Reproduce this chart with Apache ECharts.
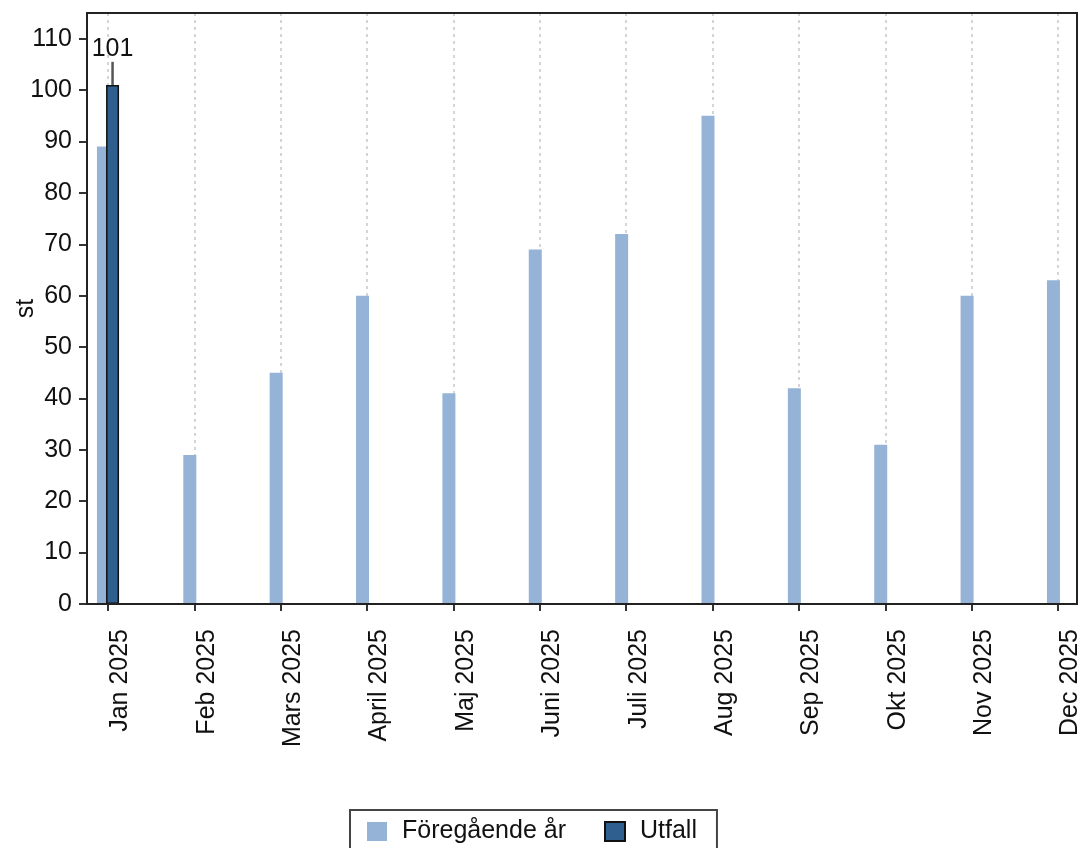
<!DOCTYPE html>
<html>
<head>
<meta charset="utf-8">
<script src="https://cdn.jsdelivr.net/npm/echarts@6/dist/echarts.min.js"></script>
<style>
html,body{margin:0;padding:0;background:#fff;}
#chart{width:1081px;height:848px;}
</style>
</head>
<body>
<div id="chart"></div>
<script>
var categories = ['Jan 2025','Feb 2025','Mars 2025','April 2025','Maj 2025','Juni 2025','Juli 2025','Aug 2025','Sep 2025','Okt 2025','Nov 2025','Dec 2025'];
var foregaendeAr = [89, 29, 45, 60, 41, 69, 72, 95, 42, 31, 60, 63];
var utfall = [101, null, null, null, null, null, null, null, null, null, null, null];
var utfallHigh = [105.5, null, null, null, null, null, null, null, null, null, null, null];
var yTicks = [0, 10, 20, 30, 40, 50, 60, 70, 80, 90, 100, 110];

var BAR_W = 13;
var BAR_GAP = -0.3;
var FONT = '"Liberation Sans", Arial, sans-serif';
var FS = 25;

var chart = echarts.init(document.getElementById('chart'), null, {renderer: 'canvas'});

var totalW = BAR_W * 2 + BAR_W * BAR_GAP;
var darkOffset = -totalW / 2 + BAR_W + BAR_W * BAR_GAP + BAR_W / 2;

var whiskerData = categories.map(function (c, i) {
  return utfall[i] == null ? [i, null, null] : [i, utfall[i], utfallHigh[i]];
}).filter(function (d) { return d[1] != null; });

var option = {
  backgroundColor: '#fff',
  animation: false,
  textStyle: {fontFamily: FONT},
  grid: [
    {left: 108, right: 23, top: 13, bottom: 244, containLabel: false, outerBoundsMode: 'none'},
    {left: 87, right: 4, top: 13, bottom: 244, containLabel: false, outerBoundsMode: 'none', show: true, borderColor: '#222', borderWidth: 2, backgroundColor: 'transparent', z: 5}
  ],
  xAxis: [
    {
      type: 'category', gridIndex: 0, data: categories, boundaryGap: false,
      axisLine: {show: false},
      axisTick: {show: true, length: 7, lineStyle: {color: '#333', width: 2}},
      splitLine: {show: true, lineStyle: {color: '#c8c8c8', type: [3, 4], width: 1.5}},
      axisLabel: {rotate: 90, fontSize: FS, color: '#111', margin: 25, fontFamily: FONT, verticalAlign: 'top', hideOverlap: false, interval: 0}
    },
    {type: 'value', gridIndex: 1, show: false, min: 0, max: 1}
  ],
  yAxis: [
    {type: 'value', gridIndex: 0, min: 0, max: 115, show: false, splitLine: {show: false}},
    {
      type: 'value', gridIndex: 1, min: 0, max: 115,
      name: 'st', nameLocation: 'middle', nameGap: 48, nameMoveOverlap: false,
      nameTextStyle: {fontSize: FS, color: '#111', fontFamily: FONT},
      axisLine: {show: true, lineStyle: {color: '#222', width: 2}},
      axisTick: {show: true, length: 8, lineStyle: {color: '#333', width: 2}, customValues: yTicks},
      axisLabel: {fontSize: FS, color: '#111', margin: 15, customValues: yTicks, fontFamily: FONT},
      splitLine: {show: false}
    }
  ],
  legend: {
    left: 350, top: 810,
    data: ['Föregående år', 'Utfall'],
    icon: 'rect', itemWidth: 20, itemHeight: 19, itemGap: 38,
    padding: [9, 20, 14, 17],
    borderColor: '#444', borderWidth: 2, backgroundColor: '#fff',
    textStyle: {fontSize: FS, color: '#111', fontFamily: FONT, padding: [0, 0, 0, 10]}
  },
  series: [
    {
      name: 'Föregående år', type: 'bar', xAxisIndex: 0, yAxisIndex: 0,
      data: foregaendeAr, barWidth: BAR_W, barGap: (BAR_GAP * 100) + '%',
      itemStyle: {color: '#95b3d7'}
    },
    {
      name: 'Utfall', type: 'bar', xAxisIndex: 0, yAxisIndex: 0,
      data: utfall, barWidth: BAR_W,
      itemStyle: {color: '#2f5f8f', borderColor: '#111', borderWidth: 1.5},
      label: {show: true, position: 'top', distance: 23, fontSize: FS, color: '#111', fontFamily: FONT}
    },
    {
      name: 'whisker', type: 'custom', xAxisIndex: 0, yAxisIndex: 0, z: 3,
      data: whiskerData,
      renderItem: function (params, api) {
        var lo = api.coord([api.value(0), api.value(1)]);
        var hi = api.coord([api.value(0), api.value(2)]);
        var x = lo[0] + darkOffset;
        return {
          type: 'line',
          shape: {x1: x, y1: lo[1], x2: x, y2: hi[1]},
          style: {stroke: '#555', lineWidth: 2.5}
        };
      },
      tooltip: {show: false}
    }
  ]
};
chart.setOption(option);
</script>
</body>
</html>
